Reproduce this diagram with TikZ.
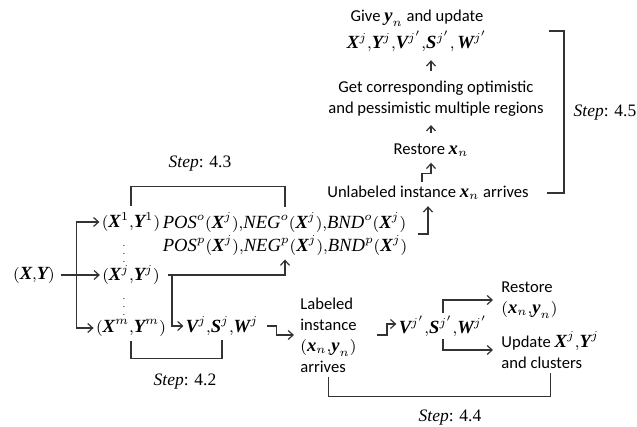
\documentclass[tikz,border=0pt]{standalone}
\usepackage{amsmath}
\usepackage{fontspec}
\setmainfont{Carlito}
\newfontfamily\mvar{Liberation Serif}[Scale=1.12]
\usetikzlibrary{positioning,arrows.meta,calc}
\newcommand{\bv}[1]{\text{\mvar\bfseries\itshape #1}}
\newcommand{\iv}[1]{\text{\mvar\itshape #1}}
\newcommand{\Xv}{\bv{X}}
\newcommand{\Yv}{\bv{Y}}
\newcommand{\Vv}{\bv{V}}
\newcommand{\Sv}{\bv{S}}
\newcommand{\Wv}{\bv{W}}
\newcommand{\xv}{\bv{x}}
\newcommand{\yv}{\bv{y}}
\newcommand{\cm}{{,}}
\newcommand{\stp}[1]{{\mvar\itshape Step}{\mvar: #1}}

\begin{document}
\begin{tikzpicture}[
  x=0.5pt, y=-0.5pt,
  font=\fontsize{8.3}{10.5}\selectfont,
  txt/.style={inner sep=1pt, align=center},
  mth/.style={txt, font=\fontsize{8.3}{11.5}\selectfont},
  vd/.style={inner sep=0pt, font=\fontsize{4.5}{5}\selectfont},
  lab/.style={font=\fontsize{7.8}{10}\selectfont},
  arr/.style={-{Straight Barb[length=2.5pt,width=4.5pt]}, line width=0.6pt, draw=black!80},
  brk/.style={line width=0.6pt, draw=black!80}
]
\useasboundingbox (0,0) rectangle (637,427);

% data and its clusters
\node[mth] (xy) at (34,275) {$(\Xv\cm\Yv)$};
\node[mth] (x1) at (131,222) {$(\Xv^{1}\cm\Yv^{1})$};
\node[vd] (dots1) at (124,248) {$\vdots$};
\node[mth] (xj) at (131,275) {$(\Xv^{j}\cm\Yv^{j})$};
\node[vd] (dots2) at (124,301) {$\vdots$};
\node[mth] (xm) at (131,328) {$(\Xv^{m}\cm\Yv^{m})$};
\node[mth, align=left] (reg) at (285,234)
  {$\iv{POS}^{o}(\Xv^{j})\cm \iv{NEG}^{o}(\Xv^{j})\cm \iv{BND}^{o}(\Xv^{j})$\\
   $\iv{POS}^{p}(\Xv^{j})\cm \iv{NEG}^{p}(\Xv^{j})\cm \iv{BND}^{p}(\Xv^{j})$};
\node[mth] (vsw) at (222,326) {$\Vv^{j}\cm\Sv^{j}\cm\Wv^{j}$};

% labeled instance branch
\node[txt, align=left, anchor=west] (labd) at (298,335)
  {Labeled\\instance\\$(\xv_{n}\cm\yv_{n})$\\arrives};
\node[mth] (vswp) at (443,326) {$\Vv^{j'}\cm\Sv^{j'}\cm\Wv^{j'}$};
\node[txt, align=left, anchor=west] (rest) at (499,300) {Restore\\$(\xv_{n}\cm\yv_{n})$};
\node[txt, align=left, anchor=west] (upd) at (499,350) {Update $\Xv^{j}\cm\Yv^{j}$\\and clusters};

% unlabeled instance branch
\node[txt] (unl) at (428,193) {Unlabeled instance $\xv_{n}$ arrives};
\node[txt] (restx) at (431,150) {Restore $\xv_{n}$};
\node[txt] (regions) at (436,99) {Get corresponding optimistic\\and pessimistic multiple regions};
\node[txt] (give) at (417,31) {Give $\yv_{n}$ and update\\[1pt]$\Xv^{j}\cm\Yv^{j}\cm\Vv^{j'}\cm\Sv^{j'}\cm\,\Wv^{j'}$};

% step labels
\node[lab] (s43) at (200,164) {\stp{4.3}};
\node[lab] (s42) at (185,382) {\stp{4.2}};
\node[lab] (s44) at (450,418) {\stp{4.4}};
\node[lab] (s45) at (605,113) {\stp{4.5}};

% connectors
\coordinate (fork) at ($(xy.east)!0.45!(xj.west)$);
\draw[arr] ([xshift=2pt]xy.east) -- (xj.west);
\draw[arr] (fork |- x1.west) -- (x1.west);
\draw[arr] (fork |- x1.west) |- (xm.west);
\draw[arr] ([xshift=3pt]xj.east) -| ([yshift=-1pt]reg.south);
\coordinate (br) at ($(xj.east)+(10,0)$);
\draw[arr] (br) |- (vsw.west);
\draw[arr] ([xshift=3pt]vsw.east) -- ++(10,0) |- ([xshift=-2pt]labd.west);
\draw[arr] ([xshift=9pt]labd.east) -- ++(10,0) |- ([yshift=1pt]vswp.west);
\draw[arr] (vswp.north) |- ([xshift=-3pt]rest.west);
\draw[arr] (vswp.south) |- ([xshift=-3pt]upd.west);
\draw[arr] ([xshift=4pt]reg.east) -| ([yshift=-2pt]unl.south);
\draw[arr] ([xshift=-3pt,yshift=1pt]unl.north) -- ++(0,-8) -| ([yshift=-2pt]restx.south);
\draw[arr, shorten <=4pt, shorten >=3pt] (restx.north) -- (restx.north |- regions.south);
\draw[arr, shorten <=4pt, shorten >=3pt] (restx.north |- regions.north) -- (give.south -| restx.north);

% step brackets
\draw[brk] ([yshift=2pt]x1.north) -- ++(0,-20) -| ([yshift=2pt]reg.north);
\draw[brk] ([yshift=-1pt]xm.south) -- ++(0,18) -| ([yshift=-1pt]vsw.south);
\draw[brk] ([yshift=-1pt]labd.south) -- ++(0,20) -| ([yshift=-1pt]upd.south);
\draw[brk] ([xshift=8pt]unl.east) -- ++(17,0) coordinate (b45)
  -- (b45 |- give.east) -- ++(-15,0);
\end{tikzpicture}
\end{document}
